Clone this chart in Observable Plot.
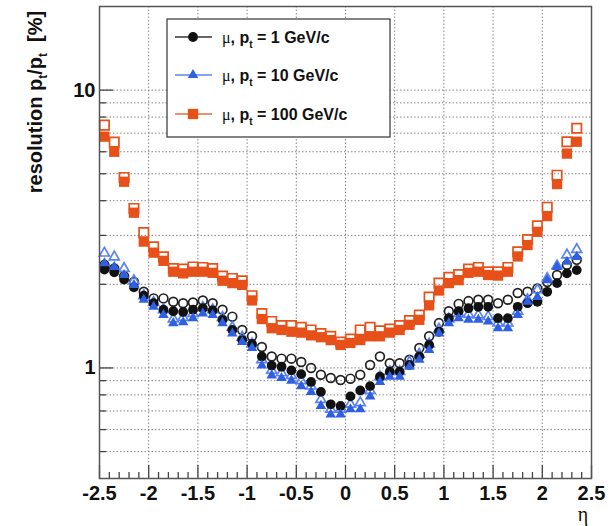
<!DOCTYPE html>
<html>
<head>
<meta charset="utf-8">
<script src="https://cdn.jsdelivr.net/npm/d3@7"></script>
<script src="https://cdn.jsdelivr.net/npm/@observablehq/plot@0.6"></script>
<style>
  body { margin: 0; background: #fff; }
  #chart { width: 613px; height: 526px; }
</style>
</head>
<body>
<div id="chart"></div>
<script>
// Bin centres in pseudorapidity
const eta = [-2.45, -2.35, -2.25, -2.15, -2.05, -1.95, -1.85, -1.75, -1.65, -1.55,
             -1.45, -1.35, -1.25, -1.15, -1.05, -0.95, -0.85, -0.75, -0.65, -0.55,
             -0.45, -0.35, -0.25, -0.15, -0.05, 0.05, 0.15, 0.25, 0.35, 0.45,
             0.55, 0.65, 0.75, 0.85, 0.95, 1.05, 1.15, 1.25, 1.35, 1.45,
             1.55, 1.65, 1.75, 1.85, 1.95, 2.05, 2.15, 2.25, 2.35];

// Muon pt resolution [%], pt = 1 GeV/c (filled / open)
const res1Filled = [2.26, 2.21, 2.08, 1.95, 1.82, 1.71, 1.62, 1.60, 1.59, 1.62,
                    1.64, 1.61, 1.49, 1.37, 1.26, 1.22, 1.10, 1.02, 1.01, 0.98,
                    0.95, 0.89, 0.82, 0.74, 0.73, 0.79, 0.83, 0.86, 0.93, 0.97,
                    0.97, 1.025, 1.10, 1.21, 1.35, 1.51, 1.60, 1.64, 1.66, 1.66,
                    1.51, 1.51, 1.66, 1.71, 1.73, 1.88, 2.02, 2.19, 2.25];
const res1Open = [2.35, 2.28, 2.14, 2.04, 1.88, 1.78, 1.78, 1.73, 1.71, 1.72,
                  1.75, 1.71, 1.62, 1.53, 1.37, 1.30, 1.19, 1.10, 1.08, 1.08,
                  1.05, 1.00, 0.945, 0.92, 0.905, 0.915, 0.945, 1.025, 1.10, 1.04,
                  1.04, 1.07, 1.18, 1.30, 1.45, 1.60, 1.70, 1.74, 1.76, 1.76,
                  1.71, 1.76, 1.86, 1.88, 1.93, 2.04, 2.16, 2.35, 2.45];

// pt = 10 GeV/c (filled / open)
const res10Filled = [2.38, 2.31, 2.16, 1.99, 1.76, 1.66, 1.55, 1.45, 1.46, 1.51,
                     1.57, 1.55, 1.45, 1.33, 1.24, 1.18, 1.02, 0.94, 0.92, 0.90,
                     0.86, 0.82, 0.73, 0.68, 0.68, 0.71, 0.71, 0.79, 0.89, 0.93,
                     0.93, 1.01, 1.07, 1.16, 1.33, 1.45, 1.51, 1.49, 1.49, 1.47,
                     1.39, 1.39, 1.55, 1.73, 1.80, 2.07, 2.31, 2.41, 2.51];
const res10Open = [2.59, 2.51, 2.28, 2.06, 1.82, 1.72, 1.62, 1.50, 1.52, 1.57,
                   1.65, 1.62, 1.52, 1.40, 1.29, 1.22, 1.07, 0.98, 0.96, 0.94,
                   0.90, 0.86, 0.77, 0.71, 0.71, 0.74, 0.75, 0.83, 0.93, 0.97,
                   0.97, 1.05, 1.12, 1.22, 1.38, 1.50, 1.57, 1.56, 1.55, 1.53,
                   1.45, 1.45, 1.60, 1.76, 1.91, 2.10, 2.33, 2.55, 2.67];

// pt = 100 GeV/c (filled / open)
const res100Filled = [6.8, 6.0, 4.68, 3.62, 2.85, 2.60, 2.43, 2.22, 2.19, 2.22,
                      2.22, 2.20, 2.06, 2.02, 1.99, 1.75, 1.50, 1.39, 1.37, 1.35,
                      1.34, 1.31, 1.29, 1.26, 1.21, 1.23, 1.26, 1.30, 1.30, 1.34,
                      1.37, 1.43, 1.49, 1.68, 1.90, 2.02, 2.07, 2.20, 2.22, 2.16,
                      2.15, 2.22, 2.52, 2.77, 3.09, 3.52, 4.59, 5.91, 6.52];
const res100Open = [7.48, 6.5, 4.85, 3.75, 3.07, 2.73, 2.51, 2.28, 2.27, 2.31,
                    2.30, 2.28, 2.14, 2.10, 2.06, 1.82, 1.57, 1.47, 1.42, 1.42,
                    1.40, 1.37, 1.33, 1.30, 1.24, 1.27, 1.37, 1.40, 1.36, 1.38,
                    1.42, 1.48, 1.55, 1.80, 2.02, 2.12, 2.17, 2.27, 2.30, 2.22,
                    2.22, 2.30, 2.62, 2.90, 3.25, 3.79, 4.94, 6.52, 7.29];

// Legend entries
const ptLabels = ["1 GeV/c", "10 GeV/c", "100 GeV/c"];

// Axis ticks
const xTicks = [-2.5, -2, -1.5, -1, -0.5, 0, 0.5, 1, 1.5, 2, 2.5];
const xMinorTicks = [-2.4, -2.3, -2.2, -2.1, -1.9, -1.8, -1.7, -1.6, -1.4, -1.3, -1.2, -1.1,
                     -0.9, -0.8, -0.7, -0.6, -0.4, -0.3, -0.2, -0.1, 0.1, 0.2, 0.3, 0.4,
                     0.6, 0.7, 0.8, 0.9, 1.1, 1.2, 1.3, 1.4, 1.6, 1.7, 1.8, 1.9,
                     2.1, 2.2, 2.3, 2.4];
const yTicks = [1, 10];
const yMinorTicks = [0.5, 0.6, 0.7, 0.8, 0.9, 2, 3, 4, 5, 6, 7, 8, 9];
const xGrid = [-2, -1.5, -1, -0.5, 0, 0.5, 1, 1.5, 2];
const yGrid = [0.5, 0.6, 0.7, 0.8, 0.9, 1, 2, 3, 4, 5, 6, 7, 8, 9, 10];

const colors = {black: "#111111", blue: "#2f5fe3", orange: "#e8501a"};

const rows = (vals) => eta.map((e, i) => ({eta: e, res: vals[i]}));

const W = 613, H = 526;
const mL = 99, mR = 22, mT = 6, mB = 48;
const innerW = W - mL - mR;
const innerH = H - mT - mB;

const grid = {stroke: "#6a6a6a", strokeOpacity: 0.8, strokeWidth: 1, strokeDasharray: "1.5,2"};
const tick = {stroke: "#444", strokeWidth: 1.3};
const FONT = "'Liberation Sans', Arial, Helvetica, sans-serif";

const openStyle = (c) => ({x: "eta", y: "res", fill: "none", stroke: c, strokeWidth: 1.7});
const fillStyle = (c) => ({x: "eta", y: "res", fill: c, stroke: "none"});

const chart = Plot.plot({
  width: W,
  height: H,
  marginLeft: mL,
  marginRight: mR,
  marginTop: mT,
  marginBottom: mB,
  style: {fontFamily: FONT, background: "white", color: "#111"},
  x: {domain: [-2.5, 2.5]},
  y: {type: "log", domain: [0.4, 20]},
  marks: [
    Plot.gridX(xGrid, grid),
    Plot.gridY(yGrid, grid),
    Plot.tickY(yMinorTicks, {...tick, insetRight: innerW - 7}),
    Plot.tickY(yTicks, {...tick, insetRight: innerW - 14}),
    Plot.tickX(xMinorTicks, {...tick, insetTop: innerH - 6}),
    Plot.tickX(xTicks, {...tick, insetTop: innerH - 13}),
    Plot.axisX(xTicks, {tickSize: 0, tickPadding: 7, fontSize: 20, fontWeight: "bold",
                        tickFormat: (d) => String(d), label: null}),
    Plot.axisY(yTicks, {tickSize: 0, tickPadding: 4, fontSize: 20, fontWeight: "bold",
                        tickFormat: (d) => String(d), label: null}),
    // open markers first, filled markers on top
    Plot.dot(rows(res1Open), {...openStyle("#222"), symbol: "circle", r: 4.4}),
    Plot.dot(rows(res10Open), {...openStyle("#5b82f0"), symbol: "triangle", r: 3.7}),
    Plot.dot(rows(res100Open), {...openStyle(colors.orange), symbol: "square", r: 5.3}),
    Plot.dot(rows(res1Filled), {...fillStyle(colors.black), symbol: "circle", r: 4.9}),
    Plot.dot(rows(res10Filled), {...fillStyle(colors.blue), symbol: "triangle", r: 3.9}),
    Plot.dot(rows(res100Filled), {...fillStyle(colors.orange), symbol: "square", r: 5.8}),
    Plot.frame({stroke: "#555", strokeWidth: 1.5})
  ]
});

document.getElementById("chart").appendChild(chart);

// Axis titles and legend
const svg = d3.select(chart);

const yTitle = svg.append("text")
  .attr("transform", "translate(42,102) rotate(-90)")
  .attr("text-anchor", "middle")
  .attr("font-family", FONT)
  .attr("font-size", 20)
  .attr("font-weight", "bold")
  .attr("fill", "#111");
yTitle.append("tspan").text("resolution p");
yTitle.append("tspan").attr("dy", 5).attr("font-size", 12).text("t");
yTitle.append("tspan").attr("dy", -5).text("/p");
yTitle.append("tspan").attr("dy", 5).attr("font-size", 12).text("t");
yTitle.append("tspan").attr("dy", -5).attr("xml:space", "preserve").text("  [%]");

svg.append("text")
  .attr("x", 583).attr("y", 521)
  .attr("text-anchor", "middle")
  .attr("font-family", "'Liberation Serif', 'DejaVu Serif', serif")
  .attr("font-size", 20)
  .attr("fill", "#111")
  .text("η");

const legend = svg.append("g").attr("text-anchor", "start");
legend.append("rect")
  .attr("x", 167).attr("y", 19).attr("width", 223).attr("height", 118)
  .attr("fill", "white").attr("stroke", "#333").attr("stroke-width", 1.2);

const entries = [
  {label: ptLabels[0], color: colors.black, line: "#333", symbol: d3.symbolCircle, r: 4.9},
  {label: ptLabels[1], color: colors.blue, line: "#5b82f0", symbol: d3.symbolTriangle, r: 3.9},
  {label: ptLabels[2], color: colors.orange, line: "#e86a40", symbol: d3.symbolSquare, r: 5.8}
];
const rowY = [37, 75, 114];
entries.forEach((e, i) => {
  const y = rowY[i];
  legend.append("line")
    .attr("x1", 175).attr("x2", 212).attr("y1", y).attr("y2", y)
    .attr("stroke", e.line).attr("stroke-width", 1.4);
  legend.append("path")
    .attr("transform", `translate(193,${y})`)
    .attr("d", d3.symbol(e.symbol, Math.PI * e.r * e.r)())
    .attr("fill", e.color);
  const t = legend.append("text")
    .attr("x", 222).attr("y", y + 6)
    .attr("text-anchor", "start")
    .attr("font-family", FONT).attr("font-size", 16).attr("font-weight", "bold")
    .attr("fill", "#111");
  t.append("tspan").attr("font-weight", "normal")
    .attr("font-family", "'Liberation Serif', 'DejaVu Serif', serif").text("μ");
  t.append("tspan").text(", p");
  t.append("tspan").attr("dy", 5).attr("font-size", 10).text("t");
  t.append("tspan").attr("dy", -5).attr("xml:space", "preserve").text(" = " + e.label);
});
</script>
</body>
</html>
